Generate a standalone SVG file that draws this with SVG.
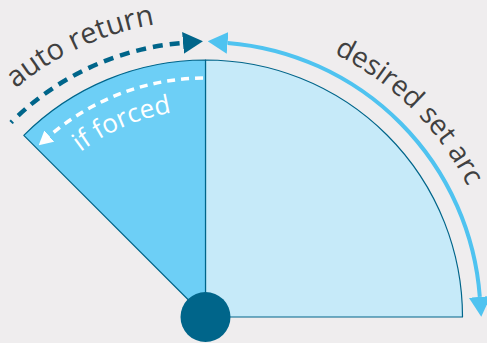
<svg xmlns="http://www.w3.org/2000/svg" width="487" height="343" viewBox="0 0 487 343">
<style>
.lbl{font-family:"Open Sans","Noto Sans","Liberation Sans",sans-serif;fill:#404040}
.wlbl{font-family:"Open Sans","Noto Sans","Liberation Sans",sans-serif;fill:#ffffff}
.sec{stroke:#00658a;stroke-width:1.2;stroke-linejoin:round}
</style>
<defs>
<marker id="mBlue" viewBox="0 0 20 22" refX="0" refY="11" markerWidth="20" markerHeight="22" markerUnits="userSpaceOnUse" orient="auto-start-reverse"><path d="M0,0 L20,11 L0,22 Z" fill="#4fc3f0"/></marker>
<marker id="mDark" viewBox="0 0 20 22" refX="0" refY="11" markerWidth="20" markerHeight="22" markerUnits="userSpaceOnUse" orient="auto"><path d="M0,0 L20,11 L0,22 Z" fill="#00658a"/></marker>
<marker id="mWhite" viewBox="0 0 14 15" refX="0" refY="7.5" markerWidth="14" markerHeight="15" markerUnits="userSpaceOnUse" orient="auto"><path d="M0,0 L14,7.5 L0,15 Z" fill="#ffffff"/></marker>
<path id="tpAuto" d="M15.5,88.5 A297,297 0 0 1 205.5,20"/>
<path id="tpDesired" d="M333.9,53.7 A293,293 0 0 1 494,266.1"/>
<path id="tpForced" d="M80.5,152 A207,207 0 0 1 205.5,110"/>
</defs>
<rect width="487" height="343" fill="#efedee"/>
<g id="desired-sector">
<path class="sec" d="M205.5,317 L205.5,60 A257,257 0 0 1 462.5,317 Z" fill="#c6eaf9"/>
</g>
<g id="forced-sector">
<path class="sec" d="M205.5,317 L205.5,60 A257,257 0 0 0 23.8,135.3 Z" fill="#6dcff6"/>
</g>
<g id="pivot">
<circle cx="205.5" cy="317" r="25" fill="#00658a"/>
</g>
<g id="connectors" fill="none">
<path d="M227.6,42.9 A275,275 0 0 1 479.8,296.9" stroke="#4fc3f0" stroke-width="4" marker-start="url(#mBlue)" marker-end="url(#mBlue)"/>
<path d="M11,122.5 A275,275 0 0 1 183,42.9" stroke="#00658a" stroke-width="4.5" stroke-dasharray="2 8 10 7 10 7 10 7 10 7 10 7 10 7 10 7 10 7 10 7 10 7 10 7 10 7 10 7 10 7 10 7" marker-end="url(#mDark)"/>
<path d="M203,78 A239,239 0 0 0 49.3,136.1" stroke="#ffffff" stroke-width="3.5" stroke-dasharray="8 6" marker-end="url(#mWhite)"/>
</g>
<g id="labels">
<text class="lbl" font-size="29"><textPath href="#tpAuto">auto return</textPath></text>
<text class="lbl" font-size="28"><textPath href="#tpDesired">desired set arc</textPath></text>
<text class="wlbl" font-size="26"><textPath href="#tpForced">if forced</textPath></text>
</g>
</svg>
